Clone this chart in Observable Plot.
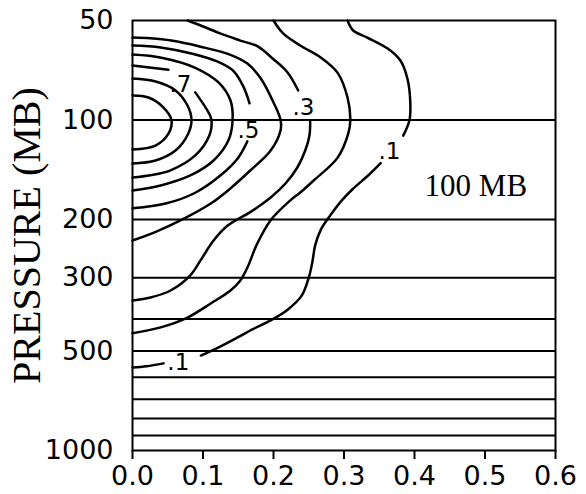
<!DOCTYPE html>
<html>
<head>
<meta charset="utf-8">
<script src="https://cdn.jsdelivr.net/npm/d3@7"></script>
<script src="https://cdn.jsdelivr.net/npm/@observablehq/plot@0.6"></script>
<style>
  html, body { margin: 0; padding: 0; background: #fff; }
  #chart svg { display: block; }
</style>
</head>
<body>
<div id="chart"></div>
<script>
// x-axis ticks and y (pressure) ticks
const xTicks = [0, 0.1, 0.2, 0.3, 0.4, 0.5, 0.6];
const pTicks = [50, 100, 200, 300, 500, 700, 1000];
// pressure levels drawn as horizontal lines
const pLevels = [100, 200, 300, 400, 500, 600, 700, 800, 900];

// contour segments: [x, pressure]
const c01a = [[0.305,50],[0.313,53.6],[0.333,56.3],[0.362,60.8],[0.380,66.1],[0.390,75],[0.394,88],[0.393,100],[0.388,107],[0.384,111.5]];
const c01b = [[0.352,135],[0.333,148],[0.312,162],[0.296,176],[0.280,195],[0.267,215],[0.259,240],[0.255,270],[0.250,300],[0.240,340],[0.220,375],[0.196,404],[0.170,430],[0.149,455],[0.120,490],[0.097,516]];
const c01c = [[0.044,545],[0.020,556],[0,561]];
const c02 = [[0.200,50],[0.214,54.8],[0.238,59.5],[0.267,64.7],[0.291,72],[0.305,85.5],[0.309,100],[0.306,110],[0.291,130],[0.257,152.4],[0.238,165.7],[0.224,175],[0.196,201],[0.177,236.5],[0.163,279.5],[0.153,306],[0.139,328],[0.111,359],[0.078,396],[0.040,424],[0,442]];
const c03a = [[0.078,50],[0.104,52.5],[0.125,54.8],[0.153,57.5],[0.177,59.8],[0.200,65.5],[0.220,71.8],[0.235,81.4]];
const c03b = [[0.252,101],[0.251,111.4],[0.245,123.7],[0.234,139],[0.217,155.7],[0.196,171.6],[0.167,190],[0.135,208.6],[0.115,231.6],[0.0965,266],[0.082,295],[0.054,328],[0.0255,344.5],[0,352]];
const c04 = [[0,56.3],[0.0255,56.6],[0.055,57.5],[0.0965,60],[0.139,63.5],[0.163,67.5],[0.182,74.9],[0.200,88.5],[0.210,100],[0.210,107.6],[0.196,123.7],[0.167,142.2],[0.139,161],[0.111,179],[0.068,201.4],[0.033,218],[0,231.6]];
const c05a = [[0,59.5],[0.040,60.3],[0.085,63],[0.120,66.5],[0.143,71],[0.157,79],[0.166,89]];
const c05b = [[0.163,116],[0.150,130],[0.125,147],[0.089,166],[0.047,179],[0,185]];
const c06 = [[0,63.4],[0.041,64.8],[0.089,69.5],[0.122,77],[0.139,87.3],[0.142,100],[0.136,115.4],[0.115,132.6],[0.082,147.2],[0.040,157.8],[0,163.4]];
const c07a = [[0,68.4],[0.051,70.5]];
const c07b = [[0.089,82.5],[0.108,95],[0.112,100],[0.109,111.4],[0.089,128],[0.054,142],[0.0255,147],[0,149.3]];
const c08 = [[0,74.9],[0.033,76.5],[0.061,81.4],[0.078,90.4],[0.0837,100],[0.079,110],[0.061,123.7],[0.0326,132.6],[0,135.4]];
const c09 = [[0,84.3],[0.0227,85.5],[0.044,91.7],[0.0553,100],[0.051,110],[0.0326,119.5],[0,122.8]];

// contour labels
const labelText = [".7", ".5", ".3", ".1", ".1"];
const labelX = [0.068, 0.1645, 0.2425, 0.3645, 0.065];
const labelP = [78, 107.6, 91.6, 124.5, 542];

const segments = {c01a, c01b, c01c, c02, c03a, c03b, c04, c05a, c05b, c06, c07a, c07b, c08, c09};
const lineData = Object.entries(segments).flatMap(([k, pts]) => pts.map(([x, p]) => ({seg: k, x, p})));
const labels = labelText.map((t, i) => ({t, x: labelX[i], p: labelP[i]}));

const sans = "'DejaVu Sans', Verdana, sans-serif";
const serif = "'Liberation Serif', 'Times New Roman', serif";

const chart = Plot.plot({
  width: 586,
  height: 494,
  marginLeft: 132,
  marginRight: 31,
  marginTop: 20,
  marginBottom: 44,
  style: {background: "#fff", fontFamily: sans, overflow: "visible", color: "#000"},
  x: {domain: [0, 0.6]},
  y: {type: "log", domain: [50, 1000], reverse: true},
  marks: [
    Plot.ruleY(pLevels, {stroke: "#000", strokeWidth: 2}),
    Plot.line(lineData, {x: "x", y: "p", z: "seg", curve: "catmull-rom", stroke: "#000", strokeWidth: 2.5}),
    Plot.text(labels, {x: "x", y: "p", text: "t", fontSize: 23, fill: "#000", fontFamily: sans}),
    Plot.text(["100 MB"], {x: 0.487, y: 158, fontSize: 31, fill: "#000", fontFamily: serif}),
    Plot.text(["PRESSURE (MB)"], {frameAnchor: "left", dx: -105, rotate: -90, textAnchor: "middle", lineAnchor: "middle", fontSize: 40, fill: "#000", fontFamily: serif}),
    Plot.frame({stroke: "#000", strokeWidth: 2}),
    Plot.axisX({ticks: xTicks, tickFormat: d3.format(".1f"), tickSize: 9, tickPadding: 6, fontSize: 27, label: null, strokeWidth: 2}),
    Plot.axisY({ticks: pTicks, tickFormat: d => String(d), tickSize: 0, tickPadding: 19, fontSize: 27, label: null})
  ]
});
document.getElementById("chart").appendChild(chart);
</script>
</body>
</html>
